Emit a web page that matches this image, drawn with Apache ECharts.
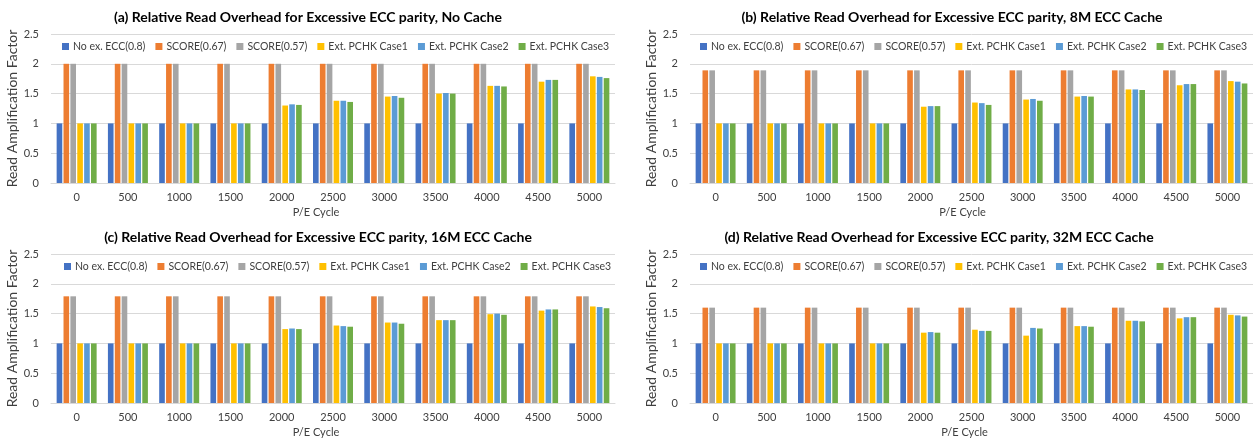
<!DOCTYPE html>
<html>
<head>
<meta charset="utf-8">
<script src="https://cdn.jsdelivr.net/npm/echarts@6/dist/echarts.min.js"></script>
<style>
html,body{margin:0;padding:0;background:#fff;}
#chart{width:1253px;height:440px;}
</style>
</head>
<body>
<div id="chart"></div>
<script>
// ---- data ----
const categories = ['0','500','1000','1500','2000','2500','3000','3500','4000','4500','5000'];
const seriesNames = ['No ex. ECC(0.8)','SCORE(0.67)','SCORE(0.57)','Ext. PCHK Case1','Ext. PCHK Case2','Ext. PCHK Case3'];
const panelTitles = [
  '(a) Relative Read Overhead for Excessive ECC parity, No Cache',
  '(b) Relative Read Overhead for Excessive ECC parity, 8M ECC Cache',
  '(c) Relative Read Overhead for Excessive ECC parity, 16M ECC Cache',
  '(d) Relative Read Overhead for Excessive ECC parity, 32M ECC Cache'
];
const yAxisName = 'Read Amplification Factor';
const xAxisName = 'P/E Cycle';

// (a) No Cache
const noCacheBase    = [1,1,1,1,1,1,1,1,1,1,1];
const noCacheScore67 = [2,2,2,2,2,2,2,2,2,2,2];
const noCacheScore57 = [2,2,2,2,2,2,2,2,2,2,2];
const noCacheCase1   = [1,1,1,1,1.30,1.38,1.45,1.50,1.63,1.70,1.79];
const noCacheCase2   = [1,1,1,1,1.32,1.38,1.46,1.51,1.63,1.73,1.78];
const noCacheCase3   = [1,1,1,1,1.31,1.36,1.43,1.50,1.62,1.73,1.76];

// (b) 8M ECC Cache
const cache8Base    = [1,1,1,1,1,1,1,1,1,1,1];
const cache8Score67 = [1.89,1.89,1.89,1.89,1.89,1.89,1.89,1.89,1.89,1.89,1.89];
const cache8Score57 = [1.89,1.89,1.89,1.89,1.89,1.89,1.89,1.89,1.89,1.89,1.89];
const cache8Case1   = [1,1,1,1,1.28,1.35,1.40,1.45,1.57,1.64,1.71];
const cache8Case2   = [1,1,1,1,1.29,1.34,1.41,1.46,1.57,1.66,1.70];
const cache8Case3   = [1,1,1,1,1.29,1.31,1.38,1.45,1.56,1.66,1.67];

// (c) 16M ECC Cache
const cache16Base    = [1,1,1,1,1,1,1,1,1,1,1];
const cache16Score67 = [1.79,1.79,1.79,1.79,1.79,1.79,1.79,1.79,1.79,1.79,1.79];
const cache16Score57 = [1.79,1.79,1.79,1.79,1.79,1.79,1.79,1.79,1.79,1.79,1.79];
const cache16Case1   = [1,1,1,1,1.24,1.30,1.35,1.39,1.49,1.55,1.62];
const cache16Case2   = [1,1,1,1,1.25,1.29,1.35,1.39,1.50,1.57,1.61];
const cache16Case3   = [1,1,1,1,1.24,1.28,1.33,1.39,1.48,1.57,1.59];

// (d) 32M ECC Cache
const cache32Base    = [1,1,1,1,1,1,1,1,1,1,1];
const cache32Score67 = [1.60,1.60,1.60,1.60,1.60,1.60,1.60,1.60,1.60,1.60,1.60];
const cache32Score57 = [1.60,1.60,1.60,1.60,1.60,1.60,1.60,1.60,1.60,1.60,1.60];
const cache32Case1   = [1,1,1,1,1.18,1.23,1.13,1.29,1.38,1.42,1.48];
const cache32Case2   = [1,1,1,1,1.19,1.21,1.26,1.29,1.38,1.44,1.47];
const cache32Case3   = [1,1,1,1,1.18,1.21,1.25,1.28,1.37,1.44,1.45];

const panelData = [
  [noCacheBase, noCacheScore67, noCacheScore57, noCacheCase1, noCacheCase2, noCacheCase3],
  [cache8Base, cache8Score67, cache8Score57, cache8Case1, cache8Case2, cache8Case3],
  [cache16Base, cache16Score67, cache16Score57, cache16Case1, cache16Case2, cache16Case3],
  [cache32Base, cache32Score67, cache32Score57, cache32Case1, cache32Case2, cache32Case3]
];

// ---- styles / layout ----
const colors = ['#4472C4','#ED7D31','#A5A5A5','#FFC000','#5B9BD5','#70AD47'];
const FONT = 'Lato, "Liberation Sans", sans-serif';
const grids = [
  {left: 51,  top: 34,  width: 564, height: 149},
  {left: 690, top: 34,  width: 563, height: 149},
  {left: 51,  top: 254, width: 564, height: 149},
  {left: 690, top: 254, width: 563, height: 149}
];
const titlePos = [
  {x: 308, y: 17}, {x: 952, y: 17}, {x: 318, y: 237}, {x: 939, y: 237}
];
const legendPos = [
  {left: 62, top: 41}, {left: 700, top: 41}, {left: 64, top: 261}, {left: 700, top: 261}
];
const xNameShift = [34, 18, 34, 14];

const option = {
  animation: false,
  color: colors,
  textStyle: {fontFamily: FONT},
  title: panelTitles.map((t, i) => ({
    text: t,
    left: titlePos[i].x, top: titlePos[i].y,
    textAlign: 'center', textVerticalAlign: 'middle',
    padding: 0,
    textStyle: {fontFamily: FONT, fontSize: 14, fontWeight: 'bold', color: '#000'}
  })),
  legend: panelTitles.map((t, i) => ({
    data: seriesNames,
    left: legendPos[i].left, top: legendPos[i].top,
    width: 600,
    padding: 0,
    icon: 'rect', itemWidth: 7, itemHeight: 7, itemGap: 10,
    textStyle: {fontFamily: FONT, fontSize: 10.5, color: '#404040', padding: [0,0,0,-1]},
    selectedMode: false
  })),
  grid: grids.map(g => Object.assign({containLabel: false}, g)),
  xAxis: grids.map((g, i) => ({
    type: 'category', gridIndex: i, data: categories,
    name: xAxisName, nameLocation: 'middle', nameGap: 24,
    nameTextStyle: {fontFamily: FONT, fontSize: 11, color: '#404040', padding: [0, xNameShift[i], 0, 0]},
    axisLine: {lineStyle: {color: '#d9d9d9'}},
    axisTick: {show: false},
    axisLabel: {fontFamily: FONT, fontSize: 11, color: '#404040', margin: 9}
  })),
  yAxis: grids.map((g, i) => ({
    type: 'value', gridIndex: i, min: 0, max: 2.5, interval: 0.5,
    name: yAxisName, nameLocation: 'middle', nameGap: 30, nameRotate: 90,
    nameTextStyle: {fontFamily: FONT, fontSize: 14, color: '#404040'},
    axisLine: {show: false}, axisTick: {show: false},
    axisLabel: {fontFamily: FONT, fontSize: 11, color: '#404040', margin: 12},
    splitLine: {lineStyle: {color: '#d9d9d9', width: 1}}
  })),
  series: []
};

panelData.forEach((arrs, p) => {
  arrs.forEach((vals, s) => {
    option.series.push({
      type: 'bar', name: seriesNames[s],
      xAxisIndex: p, yAxisIndex: p,
      data: vals,
      barGap: '22%', barCategoryGap: '22%',
      itemStyle: {color: colors[s]}
    });
  });
});

const chart = echarts.init(document.getElementById('chart'), null, {renderer: 'canvas'});
chart.setOption(option);
</script>
</body>
</html>
